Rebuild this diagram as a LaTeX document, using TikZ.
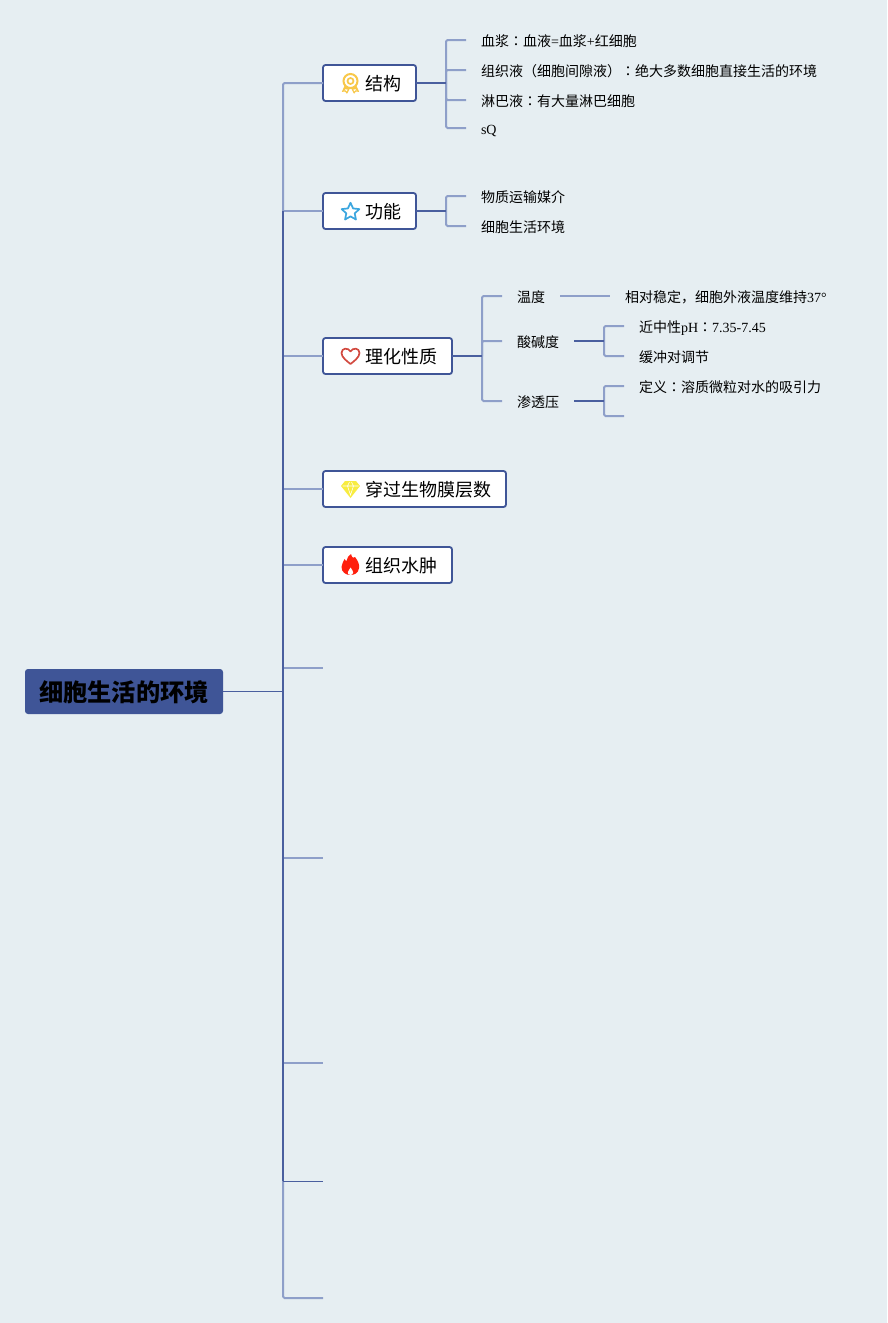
\documentclass[tikz,border=0pt]{standalone}
\usepackage{fontspec}
\setmainfont{Liberation Serif}
\newfontfamily\cjk{Noto Sans CJK SC}
\newfontfamily\cjkc{Noto Sans CJK JP}
\newcommand{\cc}{{\cjkc ：}}
\definecolor{bgc}{HTML}{E6EEF2}
\definecolor{dk}{HTML}{4A5F9F}
\definecolor{lt}{HTML}{8E9FC9}
\definecolor{boxc}{HTML}{3F5597}
\definecolor{strc}{HTML}{3BA6DF}
\tikzset{
  x=1pt,y=-1pt,
  rootbox/.style={fill=boxc,rounded corners=3pt,inner sep=0,outer sep=0,minimum width=198pt,minimum height=45pt,text height=22pt,text depth=2pt,font=\fontsize{24.2}{24}\selectfont\cjk\bfseries,text=black},
  topic/.style={draw=boxc,line width=1.8pt,fill=white,rounded corners=2.5pt,inner sep=0,outer sep=0,minimum height=36pt,anchor=west,text height=16.5pt,text depth=1.5pt,font=\fontsize{18}{18}\selectfont\cjk,text=black},
  leaf/.style={inner xsep=15pt,inner ysep=0pt,outer sep=0,anchor=west,text height=12pt,text depth=2pt,font=\fontsize{14}{14}\selectfont,text=black},
  thin line/.style={draw=dk,line width=1pt},
  heavy/.style={draw=dk,line width=2pt},
  light/.style={draw=lt,line width=2pt,rounded corners=1.5pt},
}
\begin{document}
\begin{tikzpicture}
\useasboundingbox (0,0) rectangle (887,1323);
\fill[bgc] (0,0) rectangle (887,1323);

% root
\node[rootbox] (root) at (124,691.5) {细胞生活的环境};

% topics
\node[topic,minimum width=93pt] (t1) at (323,83) {\hspace{42pt}结构\hspace{15pt}\null};
\node[topic,minimum width=93pt] (t2) at (323,211) {\hspace{42pt}功能\hspace{15pt}\null};
\node[topic,minimum width=129pt] (t3) at (323,356) {\hspace{42pt}理化性质\hspace{15pt}\null};
\node[topic,minimum width=183pt] (t4) at (323,489) {\hspace{42pt}穿过生物膜层数\hspace{15pt}\null};
\node[topic,minimum width=129pt] (t5) at (323,565) {\hspace{42pt}组织水肿\hspace{15pt}\null};

% trunk junctions and free ends
\coordinate (jr) at (283,691.5);
\coordinate (j1) at (283,83);
\coordinate (j2) at (283,211);
\coordinate (j3) at (283,356);
\coordinate (j4) at (283,489);
\coordinate (j5) at (283,565);
\coordinate (j6) at (283,668);
\coordinate (j7) at (283,858);
\coordinate (j8) at (283,1063);
\coordinate (j9) at (283,1181);
\coordinate (j10) at (283,1298);
\coordinate (e6) at (323,668);
\coordinate (e7) at (323,858);
\coordinate (e8) at (323,1063);
\coordinate (e9) at (323,1181);
\coordinate (e10) at (323,1298);

\draw[light] (j2) |- (t1.west);
\draw[light] (j9) |- (e10);
\draw[light] (j2) -- (t2.west);
\draw[light] (j3) -- (t3.west);
\draw[light] (j4) -- (t4.west);
\draw[light] (j5) -- (t5.west);
\draw[light] (j6) -- (e6);
\draw[light] (j7) -- (e7);
\draw[light] (j8) -- (e8);
\draw[thin line] (j9) -- (e9);
\draw[heavy] (j2) -- (j9);
\draw[thin line] (root.east) -- (jr);

% leaves of topic 1
\node[leaf] (a1) at (466,41) {{\cjk 血浆}\cc{\cjk 血液}={\cjk 血浆}+{\cjk 红细胞}};
\node[leaf] (a2) at (466,71) {{\cjk 组织液（细胞间隙液）}\cc{\cjk 绝大多数细胞直接生活的环境}};
\node[leaf] (a3) at (466,101) {{\cjk 淋巴液}\cc{\cjk 有大量淋巴细胞}};
\node[leaf] (a4) at (466,129) {sQ};
\coordinate (ja) at (446,83);
\draw[light] (ja) |- ([yshift=1pt]a1.west);
\draw[light] (ja) |- ([yshift=1pt]a2.west);
\draw[light] (ja) |- ([yshift=1pt]a3.west);
\draw[light] (ja) |- ([yshift=1pt]a4.west);
\draw[heavy] (t1.east) -- (ja);

% leaves of topic 2
\node[leaf] (b1) at (466,197) {\cjk 物质运输媒介};
\node[leaf] (b2) at (466,227) {\cjk 细胞生活环境};
\coordinate (jb) at (446,211);
\draw[light] (jb) |- ([yshift=1pt]b1.west);
\draw[light] (jb) |- ([yshift=1pt]b2.west);
\draw[heavy] (t2.east) -- (jb);

% topic 3
\node[leaf] (c1) at (502,297) {\cjk 温度};
\node[leaf] (c2) at (502,342) {\cjk 酸碱度};
\node[leaf] (c3) at (502,402) {\cjk 渗透压};
\coordinate (jc) at (482,356);
\draw[light] (jc) |- ([yshift=1pt]c1.west);
\draw[light] (jc) |- ([yshift=1pt]c2.west);
\draw[light] (jc) |- ([yshift=1pt]c3.west);
\draw[heavy] (t3.east) -- (jc);

\node[leaf] (d1) at (610,297) {{\cjk 相对稳定，细胞外液温度维持}37°};
\draw[light] ([yshift=1pt]c1.east) -- ([yshift=1pt]d1.west);

\node[leaf] (d2) at (624,327) {{\cjk 近中性}pH\cc 7.35-7.45};
\node[leaf] (d3) at (624,357) {\cjk 缓冲对调节};
\coordinate (jd) at (604,341);
\draw[light] (jd) |- ([yshift=1pt]d2.west);
\draw[light] (jd) |- ([yshift=1pt]d3.west);
\draw[heavy] ([yshift=1pt]c2.east) -- (jd);

\node[leaf] (d4) at (624,387) {{\cjk 定义}\cc{\cjk 溶质微粒对水的吸引力}};
\coordinate (je) at (604,401);
\coordinate (e11) at (624,416);
\draw[light] (je) |- ([yshift=1pt]d4.west);
\draw[light] (je) |- (e11);
\draw[heavy] ([yshift=1pt]c3.east) -- (je);

% icons
% medal
\begin{scope}[shift={(350.5,81)}]
\definecolor{md}{HTML}{F8C84A}
\fill[md,rounded corners=0.6pt] (-5.5,4) -- (-8.8,11) -- (-5.4,10.4) -- (-3.5,13) -- (-0.5,7) -- cycle;
\fill[md,rounded corners=0.6pt] (5.5,4) -- (8.8,11) -- (5.4,10.4) -- (3.5,13) -- (0.5,7) -- cycle;
\fill[white] (-4.8,8.2) -- (-6,9.6) -- (-4.6,9.3) -- (-3.8,10.4) -- (-2.8,8.6) -- cycle;
\fill[white] (4.8,8.2) -- (6,9.6) -- (4.6,9.3) -- (3.8,10.4) -- (2.8,8.6) -- cycle;
\draw[md,line width=2pt,fill=white] (0,0) circle (7);
\draw[md,line width=1.7pt] (0,0) circle (3);
\end{scope}
% star
\begin{scope}[shift={(350.5,212)}]
\draw[draw=strc,line width=1.7pt,line join=round,fill=white]
 (-90:9.3) -- (-54:4.4) -- (-18:9.3) -- (18:4.4) -- (54:9.3) -- (90:4.4) -- (126:9.3) -- (162:4.4) -- (198:9.3) -- (234:4.4) -- cycle;
\end{scope}
% heart
\begin{scope}[shift={(350.5,356)}]
\definecolor{hrt}{HTML}{D2493F}
\draw[draw=hrt,line width=1.7pt,line join=round,fill=white]
 (0,8) .. controls (-3,5.5) and (-9,1.5) .. (-9,-3) .. controls (-9,-8.5) and (-2,-8.5) .. (0,-4.5)
 .. controls (2,-8.5) and (9,-8.5) .. (9,-3) .. controls (9,1.5) and (3,5.5) .. (0,8) -- cycle;
\end{scope}
% diamond
\begin{scope}[shift={(350.5,489)}]
\definecolor{dia}{HTML}{F8EC40}
\fill[dia] (-5.5,-8) -- (5.5,-8) -- (9.5,-3) -- (0,9) -- (-9.5,-3) -- cycle;
\draw[white,line width=0.6pt] (-8,-3) -- (8,-3) (-3,-3) -- (0,6) -- (3,-3) (-3,-3) -- (-1,-7) (3,-3) -- (1,-7);
\end{scope}
% flame
\begin{scope}[shift={(350.5,565)}]
\fill[red!85!orange!95!white] (0.5,-11) .. controls (1.5,-6.5) and (3.5,-6.5) .. (4.5,-8)
 .. controls (7.5,-4) and (9,-1) .. (8.5,3) .. controls (8,8) and (4,10) .. (0,10)
 .. controls (-5,10) and (-9,7) .. (-9,2) .. controls (-9,-1) and (-7,-3) .. (-6,-6)
 .. controls (-5,-4.5) and (-4.5,-4) .. (-4,-4) .. controls (-3.5,-7) and (-2,-9.5) .. (0.5,-11) -- cycle;
\fill[white] (0,10) .. controls (-2,10) and (-3,8.5) .. (-2.6,7) .. controls (-2.2,5.5) and (-0.7,4.5) .. (0,2.5)
 .. controls (1,4.5) and (2.8,5.8) .. (2.7,7.5) .. controls (2.5,9) and (1.4,10) .. (0,10) -- cycle;
\end{scope}
\end{tikzpicture}
\end{document}
